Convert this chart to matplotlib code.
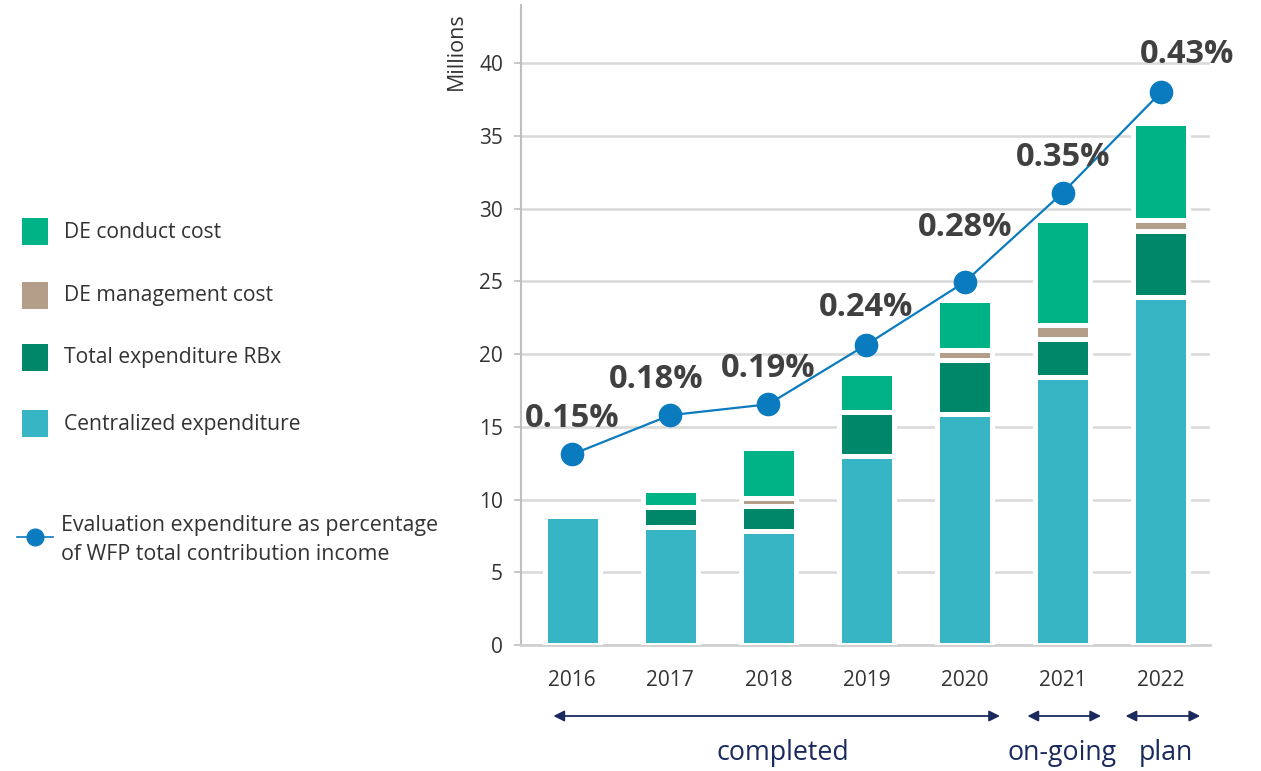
"""Evaluation expenditure 2016-2022, stacked bars with percentage line."""
import matplotlib
matplotlib.use("Agg")
import matplotlib.pyplot as plt
from matplotlib.patches import Rectangle
from matplotlib.lines import Line2D
import matplotlib.transforms as mtransforms

plt.rcParams['font.family'] = ['Open Sans', 'DejaVu Sans']

# Data (millions USD)
years = ['2016', '2017', '2018', '2019', '2020', '2021', '2022']
centralized = [8.85, 8.1, 7.85, 13.0, 15.85, 18.45, 23.9]
rbx = [0.0, 1.4, 1.7, 3.0, 3.75, 2.6, 4.55]
management = [0.0, 0.0, 0.55, 0.0, 0.7, 0.95, 0.8]
conduct = [0.0, 1.15, 3.45, 2.7, 3.45, 7.2, 6.65]
pct_line = [13.1, 15.8, 16.55, 20.65, 24.95, 31.1, 38.0]
pct_labels = ['0.15%', '0.18%', '0.19%', '0.24%', '0.28%', '0.35%', '0.43%']
label_offsets = [(0, 26), (-10, 26), (0, 26), (0, 27), (0, 39), (0, 25), (19, 27)]

C_CENT = '#38b5c5'
C_RBX = '#00876a'
C_MGMT = '#b49e8a'
C_COND = '#00b386'
C_LINE = '#0b7bbf'
C_NAVY = '#1a2a5e'
C_TEXT = '#333333'

W, H = 1261, 771
fig = plt.figure(figsize=(W / 100, H / 100), dpi=100)
ax = fig.add_axes([521 / W, 1 - 645 / H, (1210 - 521) / W, (645 - 5) / H])


def px(x, y):
    return (x / W, 1 - y / H)


x = list(range(len(years)))
bw = 0.56
bottom = [0.0] * len(years)
for vals, col in [(centralized, C_CENT), (rbx, C_RBX),
                  (management, C_MGMT), (conduct, C_COND)]:
    ax.bar(x, vals, bw, bottom=bottom, color=col, edgecolor='white',
           linewidth=3.6, zorder=3)
    bottom = [b + v for b, v in zip(bottom, vals)]

ax.plot(x, pct_line, color=C_LINE, lw=1.6, marker='o', ms=16,
        markeredgecolor=C_LINE, zorder=5)
for xi, yi, lab, (dx, dy) in zip(x, pct_line, pct_labels, label_offsets):
    ax.annotate(lab, (xi, yi), xytext=(dx, dy), textcoords='offset points',
                ha='center', va='center', fontsize=23.5, fontweight='bold',
                color='#404040', zorder=6)

ax.set_xlim(-0.52, 6.5)
ax.set_ylim(0, 44)
ax.yaxis.set_major_locator(plt.FixedLocator(range(0, 41, 5)))
ax.set_xticks(x)
ax.set_xticklabels(years)
ax.tick_params(axis='y', length=5, width=1.2, color='#bfbfbf',
               labelsize=15, labelcolor=C_TEXT, pad=8)
ax.tick_params(axis='x', length=0, labelsize=15, labelcolor=C_TEXT, pad=18)
ax.grid(axis='y', color='#d9d9d9', lw=1.8, zorder=0)
for s in ['top', 'right']:
    ax.spines[s].set_visible(False)
ax.spines['left'].set_color('#bfbfbf')
ax.spines['left'].set_linewidth(1.5)
ax.spines['bottom'].set_color('#d0d0d0')
ax.spines['bottom'].set_linewidth(2)
ax.set_ylabel('Millions', fontsize=15.5, color=C_TEXT)
ax.yaxis.set_label_coords(-0.078, 0.928)

# legend drawn by hand on the left
legend_items = [('DE conduct cost', C_COND, 232),
                ('DE management cost', C_MGMT, 296),
                ('Total expenditure RBx', C_RBX, 358),
                ('Centralized expenditure', C_CENT, 424)]
for name, col, yc in legend_items:
    x0, y0 = px(22, yc + 13)
    fig.add_artist(Rectangle((x0, y0), 26 / W, 27 / H, transform=fig.transFigure,
                             facecolor=col, edgecolor='none'))
    fig.text(*px(64, yc), name, fontsize=15.2, color=C_TEXT, va='center', ha='left')

lx0, ly = px(17, 537)
lx1, _ = px(53, 537)
fig.add_artist(Line2D([lx0, lx1], [ly, ly], transform=fig.transFigure,
                      color=C_LINE, lw=1.2))
fig.add_artist(Line2D([px(35, 537)[0]], [ly], transform=fig.transFigure,
                      color=C_LINE, marker='o', ms=12))
fig.text(*px(61, 526), 'Evaluation expenditure as percentage',
         fontsize=15.4, color=C_TEXT, va='center', ha='left')
fig.text(*px(61, 554), 'of WFP total contribution income',
         fontsize=15.4, color=C_TEXT, va='center', ha='left')

# period arrows under the axis
trans = mtransforms.blended_transform_factory(ax.transData, fig.transFigure)
y_arrow = 1 - 716 / H
for xa, xb, txt, xt in [(-0.19, 4.36, 'completed', 2.15),
                        (4.64, 5.39, 'on-going', 4.99),
                        (5.64, 6.40, 'plan', 6.05)]:
    ax.annotate('', xy=(xb, y_arrow), xytext=(xa, y_arrow),
                xycoords=trans, textcoords=trans, annotation_clip=False,
                arrowprops=dict(arrowstyle='<|-|>', color=C_NAVY, lw=1.3,
                                mutation_scale=16, shrinkA=0, shrinkB=0))
    ax.text(xt, 1 - 753 / H, txt, transform=trans, ha='center', va='center',
            fontsize=19.3, color=C_NAVY)

fig.savefig('out.png', dpi=100)
